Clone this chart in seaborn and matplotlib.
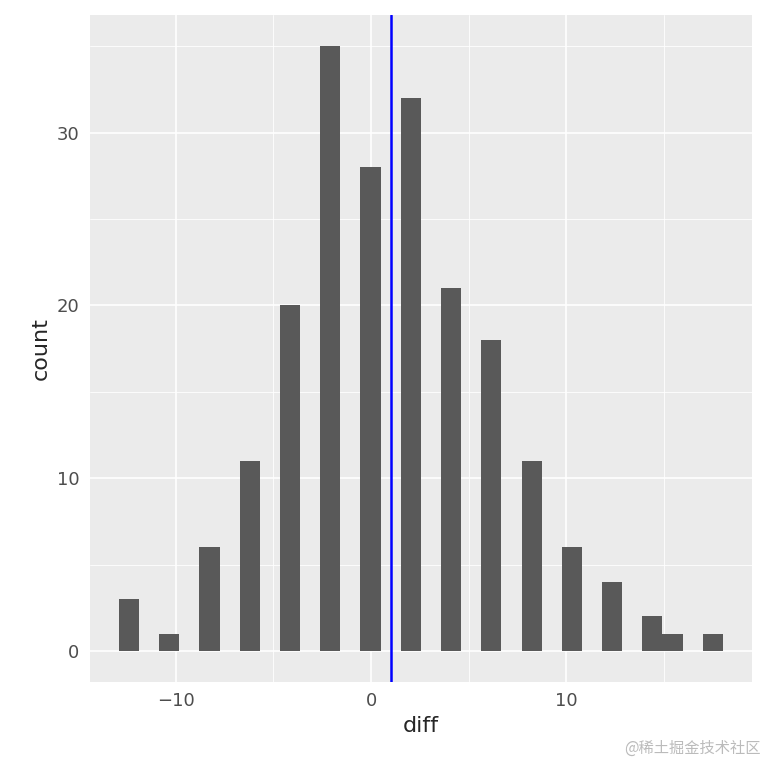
import numpy as np
import pandas as pd
import seaborn as sns
import matplotlib.pyplot as plt
from matplotlib.ticker import MultipleLocator

# bin centres (diff) and counts
bin_centers = [-12.4, -10.3, -8.2, -6.15, -4.1, -2.05, 0.05, 2.1, 4.15, 6.2, 8.25, 10.3, 12.4, 14.45, 15.5, 17.5]
counts = [3, 1, 6, 11, 20, 35, 28, 32, 21, 18, 11, 6, 4, 2, 1, 1]
mean_diff = 1.03
bin_width = 1.03

df = pd.DataFrame({'diff': bin_centers, 'count': counts})

sns.set_style('darkgrid', {'axes.facecolor': '#EBEBEB', 'grid.color': 'white'})
plt.rcParams['font.family'] = ['DejaVu Sans', 'Noto Sans CJK SC']

fig = plt.figure(figsize=(7.68, 7.68), dpi=100)
ax = fig.add_axes([0.117, 0.112, 0.862, 0.868])

sns.histplot(data=df, x='diff', weights='count', binwidth=bin_width,
             binrange=(bin_centers[0] - bin_width / 2, bin_centers[-1] + bin_width / 2),
             color='#595959', alpha=1, edgecolor='none', linewidth=0, ax=ax)
ax.axvline(mean_diff, color='blue', linewidth=1.8)

ax.set_xlim(-14.4, 19.5)
ax.set_ylim(-1.8, 36.8)
ax.xaxis.set_major_locator(MultipleLocator(10))
ax.xaxis.set_minor_locator(MultipleLocator(5))
ax.yaxis.set_major_locator(MultipleLocator(10))
ax.yaxis.set_minor_locator(MultipleLocator(5))
ax.grid(which='major', color='white', linewidth=1.2)
ax.grid(which='minor', color='white', linewidth=0.6)
ax.set_axisbelow(True)
for s in ax.spines.values():
    s.set_visible(False)
ax.tick_params(which='major', length=4, color='#333333', labelsize=13, labelcolor='#4D4D4D')
ax.tick_params(which='minor', length=0)
ax.set_xlabel('diff', fontsize=16)
ax.set_ylabel('count', fontsize=16)

fig.text(0.99, 0.015, '@稀土掘金技术社区', ha='right', va='bottom', fontsize=11,
         color='#BBBBBB', family=['Noto Sans CJK SC', 'DejaVu Sans'])

plt.savefig('out.png')
